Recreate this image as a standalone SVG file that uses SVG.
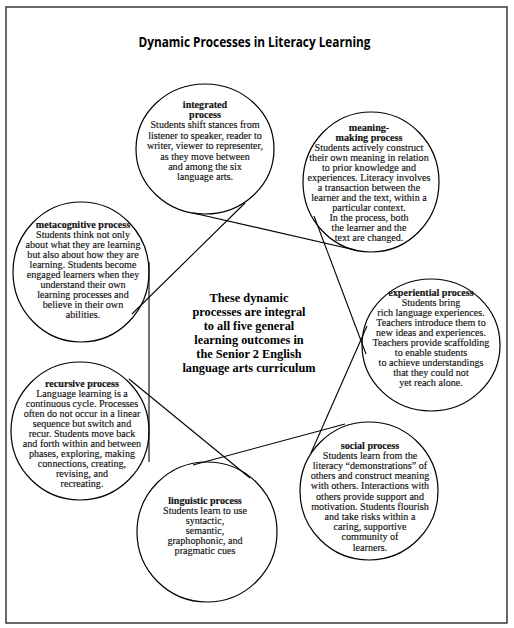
<svg xmlns="http://www.w3.org/2000/svg" width="514" height="628" viewBox="0 0 514 628">
<style>
.frame{fill:#fff;stroke:#2a2a2a;stroke-width:1.4}
.node{fill:none;stroke:#000;stroke-width:1.2}
.conn line{stroke:#000;stroke-width:1.1}
.t{font-family:"Liberation Serif","Times New Roman",serif;font-size:10.1px;fill:#111;stroke:#111;stroke-width:0.15;text-anchor:middle}
.h{font-weight:bold}
.c{font-family:"Liberation Serif","Times New Roman",serif;font-size:12.3px;font-weight:bold;fill:#000;text-anchor:middle}
.title{font-family:"Open Sans","Liberation Sans",sans-serif;font-size:14px;font-weight:bold;fill:#000;text-anchor:middle}
</style>
<rect x="0" y="0" width="514" height="628" fill="#fff"/>
<rect class="frame" x="6" y="7" width="501" height="616"/>
<text class="title" x="254.5" y="47" textLength="232" lengthAdjust="spacingAndGlyphs">Dynamic Processes in Literacy Learning</text>

<g id="connectors" class="conn">
<line x1="245" y1="203" x2="132" y2="314"/>
<line x1="193" y1="213" x2="355" y2="250"/>
<line x1="314" y1="216" x2="366" y2="354"/>
<line x1="367" y1="326" x2="311" y2="453"/>
<line x1="193" y1="465" x2="345" y2="424"/>
<line x1="129" y1="379" x2="250" y2="478"/>
<line x1="149" y1="262" x2="149" y2="462"/>
</g>

<g id="integrated">
<ellipse class="node" cx="205" cy="149" rx="69" ry="65"/>
<text class="t h" x="205" y="107.5">integrated</text>
<text class="t h" x="205" y="117.9">process</text>
<text class="t" x="205" y="128.3">Students shift stances from</text>
<text class="t" x="205" y="138.7">listener to speaker, reader to</text>
<text class="t" x="205" y="149.1">writer, viewer to representer,</text>
<text class="t" x="205" y="159.5">as they move between</text>
<text class="t" x="205" y="169.9">and among the six</text>
<text class="t" x="205" y="180.3">language arts.</text>
</g>

<g id="meaning-making">
<ellipse class="node" cx="371" cy="182" rx="68" ry="70"/>
<text class="t h" x="369" y="130.5">meaning-</text>
<text class="t h" x="369" y="140.5">making process</text>
<text class="t" x="369" y="150.5">Students actively construct</text>
<text class="t" x="369" y="160.5">their own meaning in relation</text>
<text class="t" x="369" y="170.5">to prior knowledge and</text>
<text class="t" x="369" y="180.5">experiences. Literacy involves</text>
<text class="t" x="369" y="190.5">a transaction between the</text>
<text class="t" x="369" y="200.5">learner and the text, within a</text>
<text class="t" x="369" y="210.5">particular context.</text>
<text class="t" x="369" y="220.5">In the process, both</text>
<text class="t" x="369" y="230.5">the learner and the</text>
<text class="t" x="369" y="240.5">text are changed.</text>
</g>

<g id="metacognitive">
<ellipse class="node" cx="81" cy="272" rx="68" ry="70"/>
<text class="t h" x="83" y="227.5">metacognitive process</text>
<text class="t" x="83" y="237.5">Students think not only</text>
<text class="t" x="83" y="247.5">about what they are learning</text>
<text class="t" x="83" y="257.5">but also about how they are</text>
<text class="t" x="83" y="267.5">learning. Students become</text>
<text class="t" x="83" y="277.5">engaged learners when they</text>
<text class="t" x="83" y="287.5">understand their own</text>
<text class="t" x="83" y="297.5">learning processes and</text>
<text class="t" x="83" y="307.5">believe in their own</text>
<text class="t" x="83" y="317.5">abilities.</text>
</g>

<g id="experiential">
<ellipse class="node" cx="431" cy="345" rx="69" ry="66"/>
<text class="t h" x="431" y="295.5">experiential process</text>
<text class="t" x="431" y="305.5">Students bring</text>
<text class="t" x="431" y="315.5">rich language experiences.</text>
<text class="t" x="431" y="325.5">Teachers introduce them to</text>
<text class="t" x="431" y="335.5">new ideas and experiences.</text>
<text class="t" x="431" y="345.5">Teachers provide scaffolding</text>
<text class="t" x="431" y="355.5">to enable students</text>
<text class="t" x="431" y="365.5">to achieve understandings</text>
<text class="t" x="431" y="375.5">that they could not</text>
<text class="t" x="431" y="385.5">yet reach alone.</text>
</g>

<g id="recursive">
<ellipse class="node" cx="80" cy="431" rx="69" ry="69"/>
<text class="t h" x="82" y="386.5">recursive process</text>
<text class="t" x="82" y="396.5">Language learning is a</text>
<text class="t" x="82" y="406.5">continuous cycle. Processes</text>
<text class="t" x="82" y="416.5">often do not occur in a linear</text>
<text class="t" x="82" y="426.5">sequence but switch and</text>
<text class="t" x="82" y="436.5">recur. Students move back</text>
<text class="t" x="82" y="446.5">and forth within and between</text>
<text class="t" x="82" y="456.5">phases, exploring, making</text>
<text class="t" x="82" y="466.5">connections, creating,</text>
<text class="t" x="82" y="476.5">revising, and</text>
<text class="t" x="82" y="486.5">recreating.</text>
</g>

<g id="linguistic">
<ellipse class="node" cx="207" cy="532" rx="70" ry="70"/>
<text class="t h" x="205" y="503.5">linguistic process</text>
<text class="t" x="205" y="513.5">Students learn to use</text>
<text class="t" x="205" y="523.5">syntactic,</text>
<text class="t" x="205" y="533.5">semantic,</text>
<text class="t" x="205" y="543.5">graphophonic, and</text>
<text class="t" x="205" y="553.5">pragmatic cues</text>
</g>

<g id="social">
<ellipse class="node" cx="369" cy="491" rx="69" ry="69"/>
<text class="t h" x="370" y="448.5">social process</text>
<text class="t" x="370" y="458.7">Students learn from the</text>
<text class="t" x="370" y="468.9">literacy “demonstrations” of</text>
<text class="t" x="370" y="479.1">others and construct meaning</text>
<text class="t" x="370" y="489.3">with others. Interactions with</text>
<text class="t" x="370" y="499.5">others provide support and</text>
<text class="t" x="370" y="509.7">motivation. Students flourish</text>
<text class="t" x="370" y="519.9">and take risks within a</text>
<text class="t" x="370" y="530.1">caring, supportive</text>
<text class="t" x="370" y="540.3">community of</text>
<text class="t" x="370" y="550.5">learners.</text>
</g>

<g id="center-statement">
<text class="c" x="249" y="302">These dynamic</text>
<text class="c" x="249" y="316">processes are integral</text>
<text class="c" x="249" y="330">to all five general</text>
<text class="c" x="249" y="344">learning outcomes in</text>
<text class="c" x="249" y="358">the Senior 2 English</text>
<text class="c" x="249" y="372">language arts curriculum</text>
</g>
</svg>
